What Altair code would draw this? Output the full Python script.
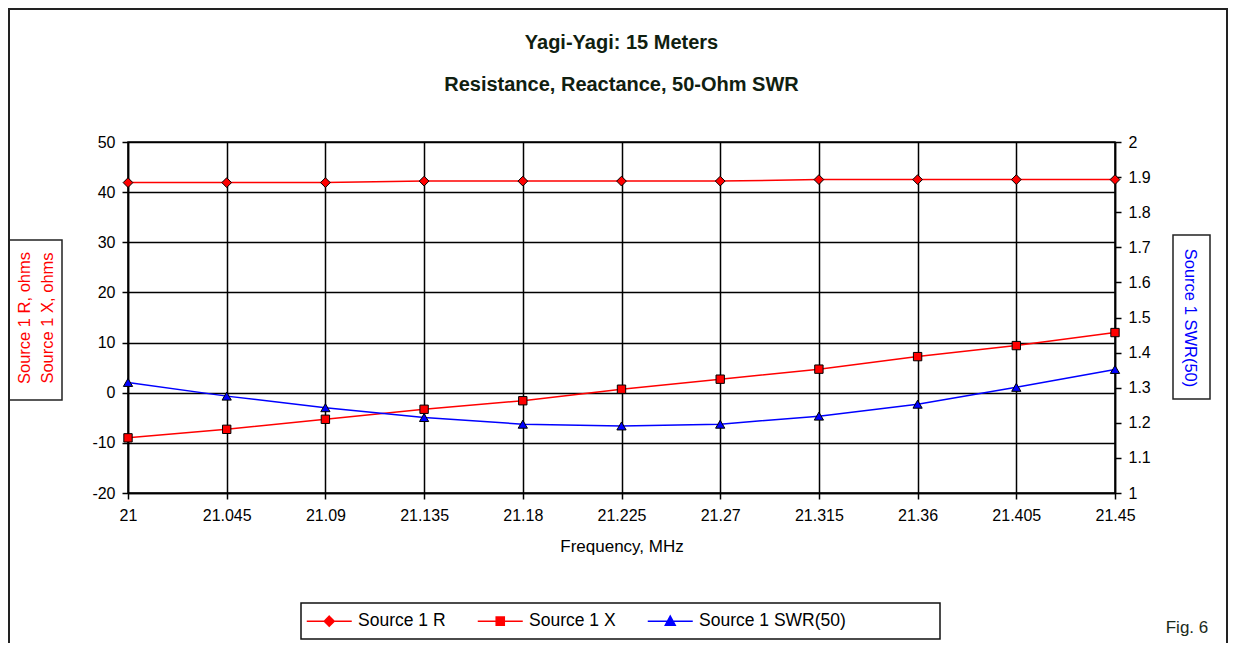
import altair as alt
import pandas as pd

# ---------------- data ----------------
freqs_mhz = [21.0, 21.045, 21.09, 21.135, 21.18, 21.225, 21.27, 21.315, 21.36, 21.405, 21.45]
r_ohms = [41.9, 41.9, 41.9, 42.2, 42.2, 42.2, 42.2, 42.5, 42.5, 42.5, 42.5]
x_ohms = [-9.0, -7.3, -5.3, -3.3, -1.6, 0.7, 2.7, 4.7, 7.2, 9.4, 12.0]
swr_50 = [1.315, 1.276, 1.243, 1.215, 1.196, 1.191, 1.196, 1.219, 1.253, 1.301, 1.352]

series_names = ["Source 1 R", "Source 1 X", "Source 1 SWR(50)"]
series_colors = ["#ff0000", "#ff0000", "#0000ff"]
legend_paths = [
    "M-5,0H5M0,-1.1L1.1,0L0,1.1L-1.1,0Z",
    "M-5,0H5M-0.9,-0.9H0.9V0.9H-0.9Z",
    "M-5,0H5M0,-1.1L1.1,0.9H-1.1Z",
]
left_ticks = [-20, -10, 0, 10, 20, 30, 40, 50]
right_ticks = [1.0, 1.1, 1.2, 1.3, 1.4, 1.5, 1.6, 1.7, 1.8, 1.9, 2.0]
left_title = ["Source 1 R, ohms", "Source 1 X, ohms"]
right_title = "Source 1 SWR(50)"
x_title = "Frequency, MHz"
chart_title = ["Yagi-Yagi: 15 Meters", "Resistance, Reactance, 50-Ohm SWR"]
fig_label = "Fig. 6"

rows = []
for f, r, x, s in zip(freqs_mhz, r_ohms, x_ohms, swr_50):
    rows.append({"freq": f, "value": r, "series": series_names[0]})
    rows.append({"freq": f, "value": x, "series": series_names[1]})
    rows.append({"freq": f, "value": s, "series": series_names[2]})
df = pd.DataFrame(rows)

FONT = "Liberation Sans"
W, H = 987, 351
PAD = {"left": 120, "top": 134, "right": 113, "bottom": 150}
TICK_FS = 16

x_enc = alt.X(
    "freq:Q",
    scale=alt.Scale(domain=[freqs_mhz[0], freqs_mhz[-1]], nice=False, zero=False),
    axis=alt.Axis(
        values=freqs_mhz, format=".3~f", title=x_title, grid=True,
        gridColor="black", gridWidth=1.5, gridOpacity=1,
        domainColor="black", domainWidth=1.5, tickColor="black", tickWidth=1.5, tickSize=6,
        labelPadding=8, labelFontSize=TICK_FS, labelFont=FONT, labelColor="black",
        labelFlush=False, labelOverlap=False, labelBound=False,
        titleFontSize=17, titleFont=FONT, titleFontWeight="normal", titleColor="black",
        titlePadding=15,
    ),
)

yl_enc = alt.Y(
    "value:Q",
    scale=alt.Scale(domain=[left_ticks[0], left_ticks[-1]], nice=False, zero=False),
    axis=alt.Axis(
        orient="left", values=left_ticks, grid=True, labelExpr="datum.value + ''",
        gridColor="black", gridWidth=1.5, gridOpacity=1,
        domainColor="black", domainWidth=1.5, tickColor="black", tickWidth=1.5, tickSize=6,
        labelPadding=7, labelFontSize=TICK_FS, labelFont=FONT, labelColor="black",
        labelFlush=False, labelOverlap=False, labelBound=False,
        title=left_title, titleColor="#ff0000", titleFontSize=16.5, titleFont=FONT,
        titleFontWeight="normal", titleAngle=270, titleBaseline="bottom", titleAlign="center",
        titleX=-96, titleY=H / 2, titleLineHeight=23,
    ),
)

yr_enc = alt.Y(
    "value:Q",
    scale=alt.Scale(domain=[right_ticks[0], right_ticks[-1]], nice=False, zero=False),
    axis=alt.Axis(
        orient="right", values=right_ticks, grid=False, format=".1~f",
        domainColor="black", domainWidth=1.5, tickColor="black", tickWidth=1.5, tickSize=6,
        labelPadding=7, labelFontSize=TICK_FS, labelFont=FONT, labelColor="black",
        labelFlush=False, labelOverlap=False, labelBound=False,
        title=right_title, titleColor="#0000ff", titleFontSize=16.5, titleFont=FONT,
        titleFontWeight="normal", titleAngle=90, titleBaseline="bottom", titleAlign="center",
        titleX=66, titleY=H / 2,
    ),
)

base = alt.Chart(df)


def only(name):
    return alt.datum.series == name


line_r = base.transform_filter(only(series_names[0])).mark_line(
    color=series_colors[0], strokeWidth=1.5).encode(x=x_enc, y=yl_enc)
line_x = base.transform_filter(only(series_names[1])).mark_line(
    color=series_colors[1], strokeWidth=1.5).encode(x=x_enc, y=yl_enc)
pts_r = base.transform_filter(only(series_names[0])).mark_point(
    shape="diamond", filled=True, fill=series_colors[0], stroke="black", strokeWidth=1,
    size=95, opacity=1).encode(x=x_enc, y=yl_enc)
pts_x = base.transform_filter(only(series_names[1])).mark_point(
    shape="square", filled=True, fill=series_colors[1], stroke="black", strokeWidth=1,
    size=70, opacity=1).encode(x=x_enc, y=yl_enc)

line_s = base.transform_filter(only(series_names[2])).mark_line(
    color=series_colors[2], strokeWidth=1.5).encode(x=x_enc, y=yr_enc)
pts_s = base.transform_filter(only(series_names[2])).mark_point(
    shape="triangle-up", filled=True, fill=series_colors[2], stroke="black", strokeWidth=1,
    size=85, opacity=1).encode(x=x_enc, y=yr_enc)

leg = alt.Legend(
    title=None, orient="none", legendX=173, legendY=461, direction="horizontal",
    padding=9, cornerRadius=0,
    symbolSize=81, symbolStrokeWidth=1.5, symbolOffset=10.5, labelOffset=20,
    labelFontSize=17.5, labelFont=FONT, labelColor="black", columnPadding=28,
)
legend_layer = base.transform_filter("false").mark_point(filled=True, opacity=1).encode(
    shape=alt.Shape("series:N", scale=alt.Scale(domain=series_names, range=legend_paths), legend=leg),
    fill=alt.Fill("series:N", scale=alt.Scale(domain=series_names, range=series_colors), legend=leg),
    stroke=alt.Stroke("series:N", scale=alt.Scale(domain=series_names, range=series_colors), legend=leg),
)

deco = alt.Chart(alt.Data(values=[{"k": 1}]))
outer = deco.mark_rect(fillOpacity=0, stroke="#222222", strokeWidth=2).encode(
    x=alt.value(-119), x2=alt.value(1099), y=alt.value(-133), y2=alt.value(620))
left_box = deco.mark_rect(fillOpacity=0, stroke="#222222", strokeWidth=1.5).encode(
    x=alt.value(-119), x2=alt.value(-66), y=alt.value(98), y2=alt.value(258))
right_box = deco.mark_rect(fillOpacity=0, stroke="#222222", strokeWidth=1.5).encode(
    x=alt.value(1045), x2=alt.value(1082), y=alt.value(93), y2=alt.value(257))
legend_box = deco.mark_rect(fillOpacity=0, stroke="#111111", strokeWidth=1.5).encode(
    x=alt.value(173), x2=alt.value(812), y=alt.value(461), y2=alt.value(497))
fig_text = deco.mark_text(text=fig_label, font=FONT, fontSize=17, color="#1a2a1a",
                          align="center", baseline="middle").encode(
    x=alt.value(1059), y=alt.value(486))
title1 = deco.mark_text(text=chart_title[0], font=FONT, fontSize=20, fontWeight="bold",
                        color="#102010", align="center", baseline="middle").encode(
    x=alt.value(W / 2), y=alt.value(-99))
title2 = deco.mark_text(text=chart_title[1], font=FONT, fontSize=20, fontWeight="bold",
                        color="#102010", align="center", baseline="middle").encode(
    x=alt.value(W / 2), y=alt.value(-57))

left_group = alt.layer(line_r, line_x, pts_r, pts_x, legend_layer, outer, left_box,
                       right_box, legend_box, fig_text, title1, title2)
right_group = alt.layer(line_s, pts_s)

chart = alt.layer(left_group, right_group).resolve_scale(y="independent").properties(
    width=W, height=H,
    autosize=alt.AutoSizeParams(type="none"),
    padding=PAD,
    background="white",
).configure_view(stroke="black", strokeWidth=1.5)

chart.save("out.html", embed_options={"renderer": "svg", "actions": False})
